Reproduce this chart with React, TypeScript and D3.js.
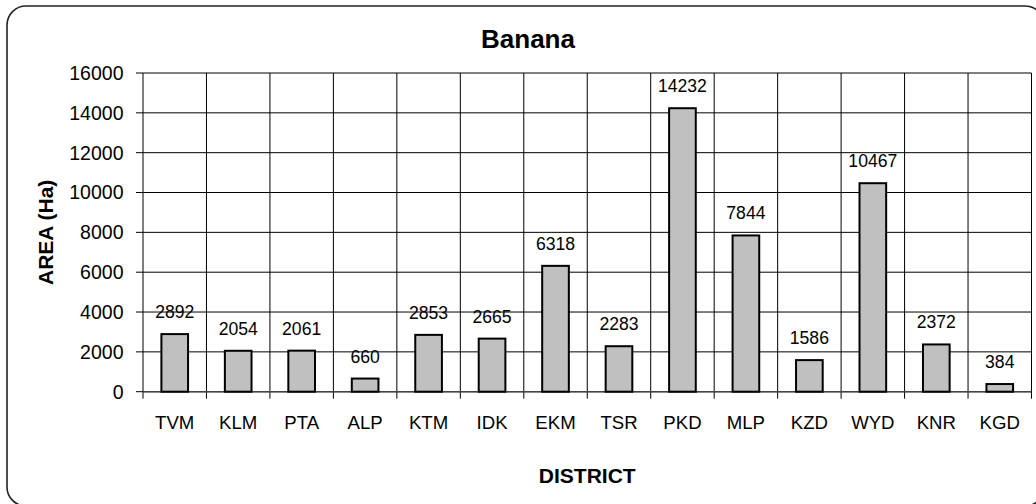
import React from "react";
import * as d3 from "d3";

const districts = ["TVM", "KLM", "PTA", "ALP", "KTM", "IDK", "EKM", "TSR", "PKD", "MLP", "KZD", "WYD", "KNR", "KGD"];
const areaHa = [2892, 2054, 2061, 660, 2853, 2665, 6318, 2283, 14232, 7844, 1586, 10467, 2372, 384];
const yTicks = [0, 2000, 4000, 6000, 8000, 10000, 12000, 14000, 16000];
const chartTitle = "Banana";
const yTitle = "AREA (Ha)";
const xTitle = "DISTRICT";

const W = 1036;
const H = 504;
const plot = { left: 143, right: 1031.5, top: 73, bottom: 391.7 };
const FONT = "'Liberation Sans', Arial, Helvetica, sans-serif";

export default function App() {
  const x = d3.scaleBand<string>().domain(districts).range([plot.left, plot.right]).paddingInner(0).paddingOuter(0);
  const y = d3.scaleLinear().domain([0, 16000]).range([plot.bottom, plot.top]);
  const bw = x.bandwidth() * 0.42;
  const boundaries = districts.map((d) => x(d) as number).concat([plot.right]);

  return (
    <svg width={W} height={H} style={{ position: "absolute", left: 0, top: 0, background: "#fff" }}>
      <rect x={7} y={6} width={1037} height={500} rx={19} ry={19} fill="#fff" stroke="#222" strokeWidth={1.6} />
      <text x={528} y={48} textAnchor="middle" fontFamily={FONT} fontWeight="bold" fontSize={26}>{chartTitle}</text>

      <rect x={plot.left} y={plot.top} width={plot.right - plot.left} height={plot.bottom - plot.top} fill="#fff" />
      {yTicks.map((t) => (
        <g key={t}>
          <line x1={plot.left - 7} x2={plot.right} y1={y(t)} y2={y(t)} stroke="#000" strokeWidth={1} />
          <text x={123.5} y={y(t)} dy="0.35em" textAnchor="end" fontFamily={FONT} fontSize={19.5}>{t}</text>
        </g>
      ))}
      {boundaries.map((bx, i) => (
        <line key={i} x1={bx} x2={bx} y1={plot.top} y2={plot.bottom + 7} stroke="#000" strokeWidth={1} />
      ))}
      <line x1={plot.left} x2={plot.right} y1={plot.bottom} y2={plot.bottom} stroke="#444" strokeWidth={1.5} />

      {districts.map((d, i) => {
        const cx = (x(d) as number) + x.bandwidth() / 2;
        const v = areaHa[i];
        return (
          <g key={d}>
            <rect x={cx - bw / 2} y={y(v)} width={bw} height={plot.bottom - y(v)} fill="#C0C0C0" stroke="#000" strokeWidth={2} />
            <text x={cx} y={y(v) - 16} textAnchor="middle" fontFamily={FONT} fontSize={17.6}>{v}</text>
            <text x={cx} y={429} textAnchor="middle" fontFamily={FONT} fontSize={18.6}>{d}</text>
          </g>
        );
      })}

      <text transform={`translate(53,${(plot.top + plot.bottom) / 2}) rotate(-90)`} textAnchor="middle" fontFamily={FONT} fontWeight="bold" fontSize={21}>{yTitle}</text>
      <text x={(plot.left + plot.right) / 2} y={483} textAnchor="middle" fontFamily={FONT} fontWeight="bold" fontSize={21}>{xTitle}</text>
    </svg>
  );
}
